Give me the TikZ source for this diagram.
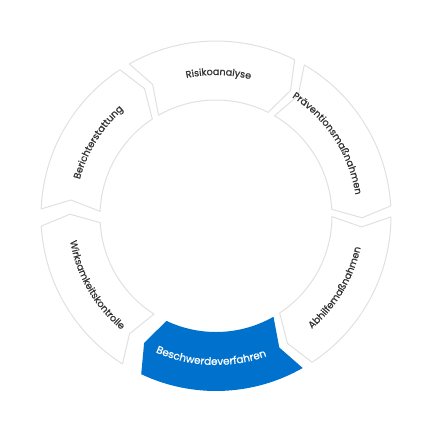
\documentclass[tikz,border=0pt]{standalone}
\usepackage{fontspec}
\setmainfont{Poppins}
\newfontfamily\seglabelfont[FakeBold=0.8]{Poppins}
\usetikzlibrary{decorations.text}
\definecolor{ringgray}{HTML}{E0E0E0}
\definecolor{ringblue}{HTML}{0072CE}
\definecolor{labelgray}{HTML}{333333}
\newcommand{\segfont}{\seglabelfont\fontsize{9.6}{11}\selectfont}
\newcommand{\segfontw}{\seglabelfont\fontsize{10.4}{12}\selectfont}
\tikzset{
  ringlabel/.style={decorate, decoration={text along path, text align=center, text color=labelgray, text={|\segfont|#1}}},
  ringlabelw/.style={decorate, decoration={text along path, text align=center, text color=white, text={|\segfontw|#1}}}
}
\begin{document}
\begin{tikzpicture}
\useasboundingbox (-216pt,-216pt) rectangle (216pt,216pt);

% Segmente (Anfangswinkel/Endwinkel, im Uhrzeigersinn)
\foreach \t/\l in {119.7/63.3, 59.7/3.3, -0.3/-56.7, -122.3/-176.7, 177.7/123.3}
  \draw[ringgray, line width=1pt, line join=round] (\t:175pt) arc[start angle=\t, end angle=\l, radius=175pt] -- (\l-4:146pt) -- (\l:116pt) arc[start angle=\l, end angle=\t, radius=116pt] -- (\t-4:146pt) -- cycle;

% hervorgehobenes Segment
\fill[ringblue] (-60.3:175pt) arc[start angle=-60.3, end angle=-115.3, radius=175pt] -- (-119.5:146pt) -- (-115.3:116pt) arc[start angle=-115.3, end angle=-60.3, radius=116pt] -- (-64.3:146pt) -- cycle;

% Beschriftungen
\path[ringlabel=Risikoanalyse] (119:141pt) arc[start angle=119, end angle=59, radius=141pt];
\path[ringlabel=Präventionsmaßnahmen] (63:141pt) arc[start angle=63, end angle=3, radius=141pt];
\path[ringlabel=Berichterstattung] (178:141pt) arc[start angle=178, end angle=118, radius=141pt];
\path[ringlabel=Abhilfemaßnahmen] (299:148pt) arc[start angle=299, end angle=359, radius=148pt];
\path[ringlabel=Wirksamkeitskontrolle] (180:148pt) arc[start angle=180, end angle=240, radius=148pt];
\path[ringlabelw=Beschwerdeverfahren] (237:149pt) arc[start angle=237, end angle=299, radius=149pt];

\end{tikzpicture}
\end{document}
